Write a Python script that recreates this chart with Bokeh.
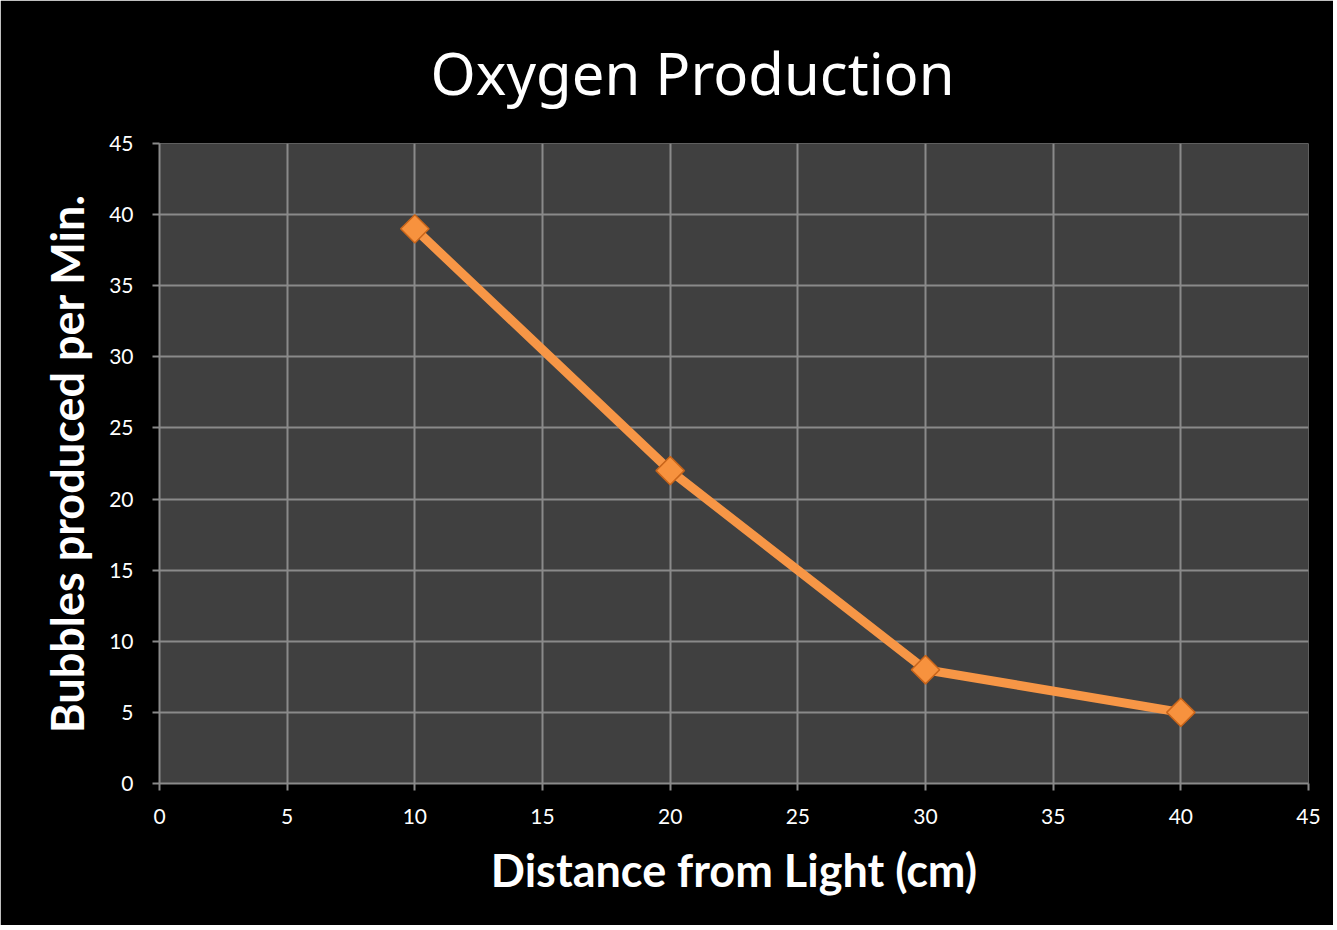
import numpy as np
from bokeh.plotting import figure
from bokeh.models import Range1d, FixedTicker
from bokeh.embed import file_html
from bokeh.resources import INLINE

distance = [10, 20, 30, 40]
bubbles = [39, 22, 8, 5]
ticks = [0, 5, 10, 15, 20, 25, 30, 35, 40, 45]
title_text = "Oxygen Production"
x_label = "Distance from Light (cm)"
y_label = "Bubbles produced per Min."

p = figure(width=1333, height=925, output_backend="svg", toolbar_location=None,
           x_range=Range1d(0, 45), y_range=Range1d(0, 45),
           background_fill_color="#404040", border_fill_color="#000000",
           outline_line_color=None,
           min_border_left=159, min_border_right=25, min_border_top=143, min_border_bottom=142)

p.title.text = title_text
p.title.text_color = "white"
p.title.text_font = "Noto Sans"
p.title.text_font_size = "58px"
p.title.text_font_style = "normal"
p.title.align = "left"
p.title.offset = 271
p.title.standoff = 60
p.title.vertical_align = "top"

for ax in (p.xaxis, p.yaxis):
    ax.ticker = FixedTicker(ticks=ticks)
    ax.axis_line_color = "#8a8a8a"
    ax.axis_line_width = 2
    ax.major_tick_line_color = "#8a8a8a"
    ax.major_tick_line_width = 2
    ax.major_tick_out = 7
    ax.major_tick_in = 0
    ax.minor_tick_line_color = None
    ax.major_label_text_color = "white"
    ax.major_label_text_font = "Lato"
    ax.major_label_text_font_size = "21px"
    ax.axis_label_text_color = "white"
    ax.axis_label_text_font = "Lato"
    ax.axis_label_text_font_style = "bold"
    ax.axis_label_text_font_size = "45px"

p.xaxis.axis_label = x_label
p.yaxis.axis_label = y_label
p.xaxis.major_label_standoff = 18
p.yaxis.major_label_standoff = 19
p.xaxis.axis_label_standoff = 16
p.yaxis.axis_label_standoff = 12

p.xgrid.ticker = FixedTicker(ticks=ticks)
p.ygrid.ticker = FixedTicker(ticks=ticks)
p.xgrid.grid_line_color = "#8a8a8a"
p.ygrid.grid_line_color = "#8a8a8a"
p.xgrid.grid_line_width = 2
p.ygrid.grid_line_width = 2

p.line(distance, bubbles, line_color="#F79646", line_width=9)
p.scatter(distance, bubbles, marker="square", size=20, angle=np.pi / 4,
          fill_color="#F7923E", line_color="#C9651A", line_width=1.5)

open("out.html", "w").write(file_html(p, INLINE))
